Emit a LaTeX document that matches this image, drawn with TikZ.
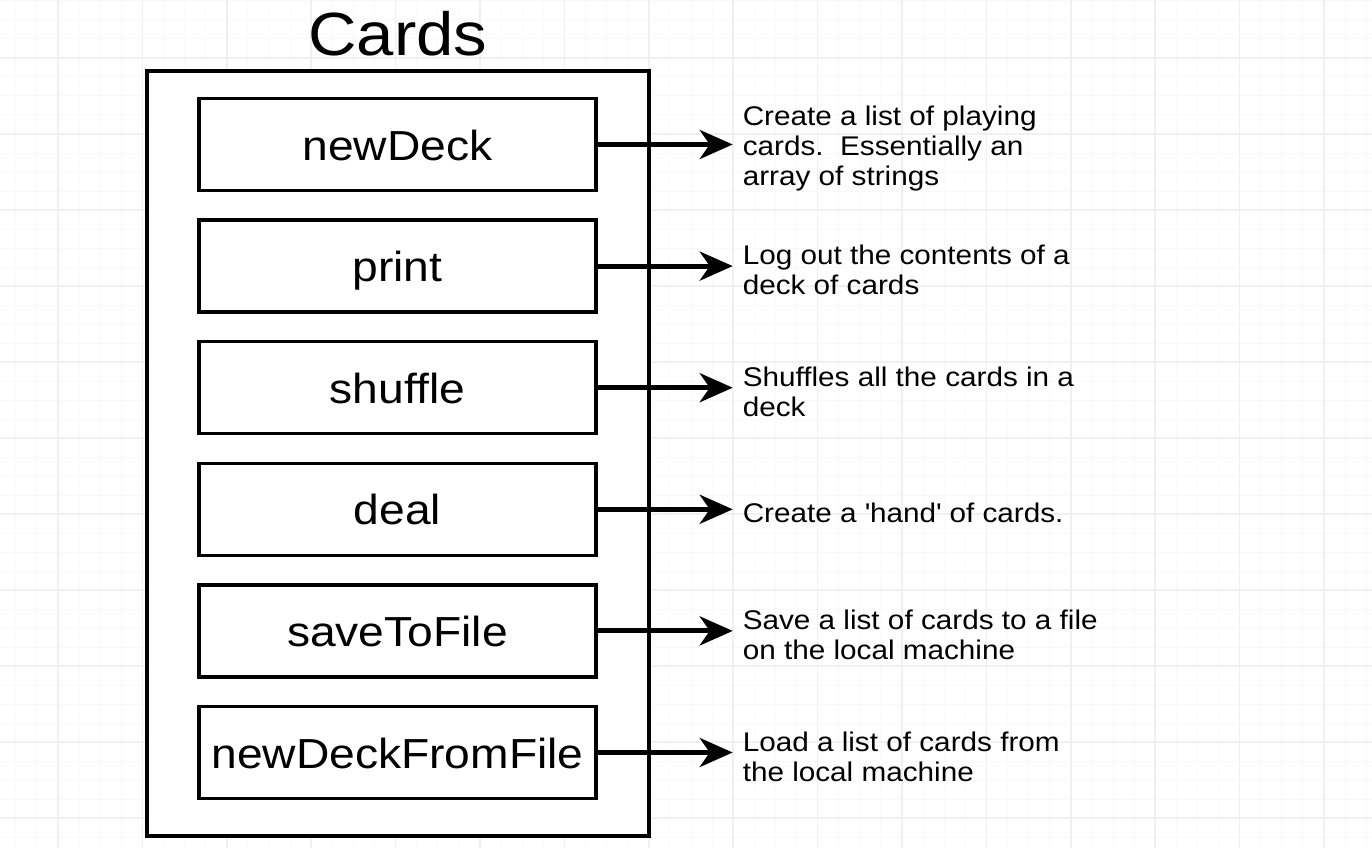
\documentclass[tikz,border=0pt]{standalone}
\usepackage{fontspec}
\setmainfont{Liberation Sans}[FakeStretch=1.1]
\usetikzlibrary{
    arrows.meta,
    positioning
}
\tikzset{%
    >={Stealth[length=33pt, width=29pt, inset=10pt]},
    % grid of the drawing page
    minor/.style = {draw=gray!5, line width=1pt},
    major/.style = {draw=gray!12, line width=1.5pt},
    % Specifications for style of nodes:
    base/.style = {
        rectangle, draw=black, line width=3.5pt,
        fill=white, text centered, align=center
    },
    container/.style = {base, minimum width=502pt, minimum height=765pt},
    method/.style = {base, minimum width=397pt, minimum height=92pt,
        text height=31pt, text depth=0pt,
        font=\fontsize{42}{46}\selectfont},
    title/.style = {inner sep=0pt, font=\fontsize{61}{66}\selectfont},
    note/.style = {
        align=left, anchor=west, inner xsep=10pt, inner ysep=0pt,
        outer sep=0pt, yshift=-4pt, font=\fontsize{27}{30}\selectfont
    },
    link/.style = {->, line width=5pt}
}
\begin{document}
\begin{tikzpicture}[x=1pt, y=-1pt]
    \path[use as bounding box, fill=white] (0,0) rectangle (1372,848);
    % page grid
    \foreach \i in {0,...,65} \draw[minor] ({-5.3+21.1*\i},0) -- ++(0,848);
    \foreach \j in {0,...,45} \draw[minor] (0,{-18+19*\j}) -- ++(1372,0);
    \foreach \i in {0,...,15} \draw[major] ({58+84.4*\i},0) -- ++(0,848);
    \foreach \j in {0,...,10} \draw[major] (0,{58+76*\j}) -- ++(1372,0);

    \node[container] (cards) at (398,453.5) {};
    \node[title, above=13pt of cards] (cardsTitle) {Cards};

    \node[method] (newDeck) at (397.5,144.5) {newDeck};
    \node[method, below=26.1pt of newDeck] (print) {print};
    \node[method, below=26.1pt of print] (shuffle) {shuffle};
    \node[method, below=26.1pt of shuffle] (deal) {deal};
    \node[method, below=26.1pt of deal] (saveToFile) {saveToFile};
    \node[method, below=26.1pt of saveToFile] (newDeckFromFile) {newDeckFromFile};

    \node[note, right=135pt of newDeck] (newDeckText) {Create a list of playing\\cards.\ \ Essentially an\\array of strings};
    \node[note, right=135pt of print] (printText) {Log out the contents of a\\deck of cards};
    \node[note, right=135pt of shuffle] (shuffleText) {Shuffles all the cards in a\\deck};
    \node[note, right=135pt of deal] (dealText) {Create a \textquotesingle hand\textquotesingle{} of cards.};
    \node[note, right=135pt of saveToFile] (saveToFileText) {Save a list of cards to a file\\on the local machine};
    \node[note, right=135pt of newDeckFromFile] (newDeckFromFileText) {Load a list of cards from\\the local machine};

    \draw[link] (newDeck.east) -- (newDeck.east -| newDeckText.west);
    \draw[link] (print.east) -- (print.east -| printText.west);
    \draw[link] (shuffle.east) -- (shuffle.east -| shuffleText.west);
    \draw[link] (deal.east) -- (deal.east -| dealText.west);
    \draw[link] (saveToFile.east) -- (saveToFile.east -| saveToFileText.west);
    \draw[link] (newDeckFromFile.east) -- (newDeckFromFile.east -| newDeckFromFileText.west);
\end{tikzpicture}
\end{document}
